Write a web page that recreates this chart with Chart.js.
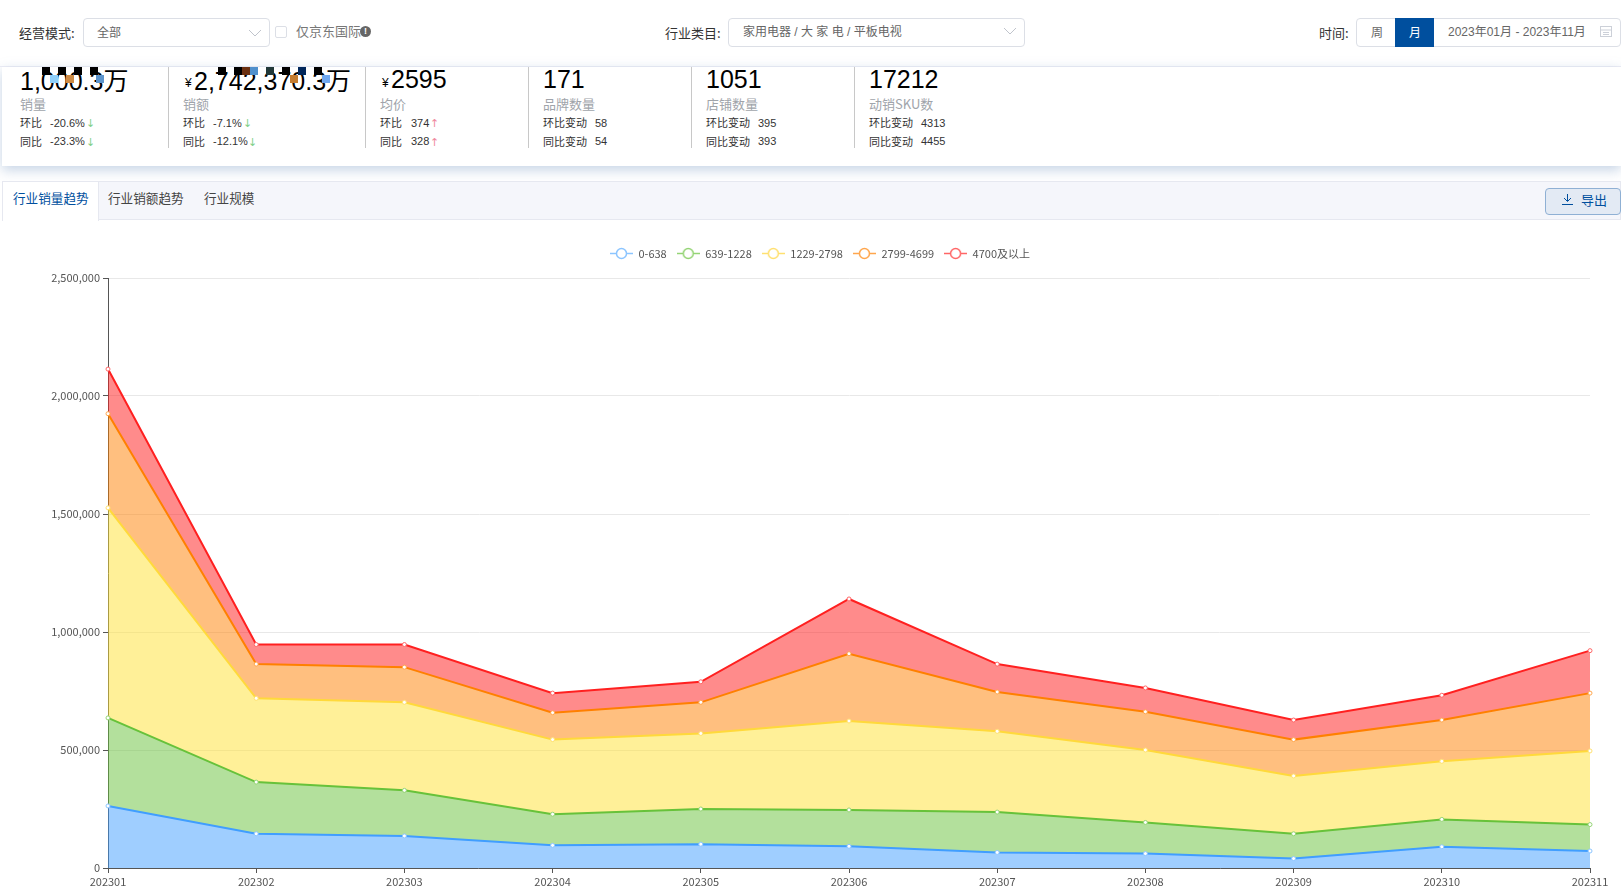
<!DOCTYPE html>
<html>
<head>
<meta charset="utf-8">
<script src="https://cdn.jsdelivr.net/npm/chart.js@4/dist/chart.umd.min.js"></script>
<style>
html, body { margin: 0; padding: 0; width: 1621px; height: 892px; overflow: hidden; background: #fff; }
body { font-family: "Liberation Sans", "Noto Sans CJK SC", sans-serif; color: #333; position: relative; }
.a { position: absolute; white-space: pre; line-height: 1; }
.box { position: absolute; box-sizing: border-box; border: 1px solid #dcdfe6; border-radius: 4px; background: #fff; }
.cn { font-family: "Noto Sans CJK SC", sans-serif; }
.val { font-size: 25px; color: #000; }
.lab { font-size: 13px; color: #a0a4aa; }
.row { font-size: 11px; color: #333; }
.arr { font-family: "DejaVu Sans"; font-size: 11px; }
.sep { position: absolute; width: 1px; top: 67px; height: 81px; background: #c8c8c8; }
.mos { position: absolute; width: 8px; height: 8px; }
</style>
</head>
<body>
<!-- filter bar -->
<div class="a" style="left:0;top:66px;width:1621px;height:1px;background:#eeeef6"></div>
<div class="a cn" style="left:19px;top:26px;font-size:13px">经营模式:</div>
<div class="box" style="left:83px;top:18px;width:187px;height:29px"></div>
<div class="a cn" style="left:97px;top:26px;font-size:12px;color:#666">全部</div>
<svg class="a" style="left:248px;top:29px" width="14" height="9"><path d="M1 1 L7 7 L13 1" fill="none" stroke="#c0c4cc"/></svg>
<div class="box" style="left:275px;top:26px;width:12px;height:12px;border-radius:2px"></div>
<div class="a cn" style="left:296px;top:24px;font-size:13px;color:#777">仅京东国际</div>
<div class="a" style="left:360px;top:26px;width:11px;height:11px;border-radius:6px;background:#666;color:#fff;font-size:9px;text-align:center;line-height:11px;font-weight:bold">!</div>
<div class="a cn" style="left:665px;top:26px;font-size:13px">行业类目:</div>
<div class="box" style="left:728px;top:18px;width:297px;height:29px"></div>
<div class="a" style="left:743px;top:26px;font-size:12px;color:#666">家用电器 / 大 家 电 / 平板电视</div>
<svg class="a" style="left:1003px;top:27px" width="14" height="9"><path d="M1 1 L7 7 L13 1" fill="none" stroke="#c0c4cc"/></svg>
<div class="a cn" style="left:1319px;top:26px;font-size:13px">时间:</div>
<div class="box" style="left:1356px;top:18px;width:265px;height:29px"></div>
<div class="a cn" style="left:1371px;top:26px;font-size:12px;color:#666">周</div>
<div class="a" style="left:1395px;top:18px;width:39px;height:29px;background:#004f9e"></div>
<div class="a cn" style="left:1409px;top:26px;font-size:12px;color:#fff">月</div>
<div class="a" style="left:1448px;top:26px;font-size:12px;color:#666">2023年01月 - 2023年11月</div>
<svg class="a" style="left:1600px;top:25px" width="12" height="12"><rect x="0.5" y="1.5" width="11" height="10" fill="none" stroke="#ccd0d8"/><path d="M0 5 H12 M3 7.5 H9 M3 9.5 H9" stroke="#ccd0d8"/></svg>

<!-- kpi card -->
<div class="a" style="left:2px;top:67px;width:1619px;height:99px;box-shadow:0 4px 12px rgba(110,145,190,.4);background:#fff"></div>
<div class="sep" style="left:168px"></div>
<div class="sep" style="left:365px"></div>
<div class="sep" style="left:528px"></div>
<div class="sep" style="left:691px"></div>
<div class="sep" style="left:854px"></div>

<div class="a val" style="left:20px;top:67px">1,000.3<span class="cn">万</span></div>
<div class="mos" style="left:42px;top:67px;background:#000"></div>
<div class="mos" style="left:58px;top:67px;background:#000"></div>
<div class="mos" style="left:74px;top:67px;background:#000"></div>
<div class="mos" style="left:90px;top:67px;background:#000"></div>
<div class="mos" style="left:50px;top:75px;background:#8fd0fa"></div>
<div class="mos" style="left:66px;top:75px;background:#cc8a44"></div>
<div class="mos" style="left:96px;top:75px;background:#5c94cc"></div>
<div class="a lab cn" style="left:20px;top:97px">销量</div>
<div class="a row cn" style="left:20px;top:117px">环比</div><div class="a row" style="left:50px;top:118px">-20.6%</div><div class="a arr" style="left:86px;top:118px;color:#7fd08a">↓</div>
<div class="a row cn" style="left:20px;top:136px">同比</div><div class="a row" style="left:50px;top:136px">-23.3%</div><div class="a arr" style="left:86px;top:137px;color:#7fd08a">↓</div>

<div class="a" style="left:185px;top:77px;font-size:12px;color:#000">¥</div>
<div class="a val" style="left:194px;top:67px">2,742,370.3<span class="cn">万</span></div>
<div class="mos" style="left:218px;top:67px;background:#000"></div>
<div class="mos" style="left:234px;top:67px;background:#000"></div>
<div class="mos" style="left:242px;top:67px;background:#6b3010"></div>
<div class="mos" style="left:250px;top:67px;background:#5090cc"></div>
<div class="mos" style="left:266px;top:67px;background:#223838"></div>
<div class="mos" style="left:282px;top:67px;background:#000"></div>
<div class="mos" style="left:298px;top:67px;background:#00265a"></div>
<div class="mos" style="left:314px;top:67px;background:#000"></div>
<div class="mos" style="left:290px;top:75px;background:#c47c30"></div>
<div class="mos" style="left:322px;top:75px;background:#70a8f0"></div>
<div class="a lab cn" style="left:183px;top:97px">销额</div>
<div class="a row cn" style="left:183px;top:117px">环比</div><div class="a row" style="left:213px;top:118px">-7.1%</div><div class="a arr" style="left:243px;top:118px;color:#7fd08a">↓</div>
<div class="a row cn" style="left:183px;top:136px">同比</div><div class="a row" style="left:213px;top:136px">-12.1%</div><div class="a arr" style="left:248px;top:137px;color:#7fd08a">↓</div>

<div class="a" style="left:382px;top:77px;font-size:12px;color:#000">¥</div>
<div class="a val" style="left:391px;top:67px">2595</div>
<div class="a lab cn" style="left:380px;top:97px">均价</div>
<div class="a row cn" style="left:380px;top:117px">环比</div><div class="a row" style="left:411px;top:118px">374</div><div class="a arr" style="left:430px;top:118px;color:#f08aa0">↑</div>
<div class="a row cn" style="left:380px;top:136px">同比</div><div class="a row" style="left:411px;top:136px">328</div><div class="a arr" style="left:430px;top:137px;color:#f08aa0">↑</div>

<div class="a val" style="left:543px;top:67px">171</div>
<div class="a lab cn" style="left:543px;top:97px">品牌数量</div>
<div class="a row cn" style="left:543px;top:117px">环比变动</div><div class="a row" style="left:595px;top:118px">58</div>
<div class="a row cn" style="left:543px;top:136px">同比变动</div><div class="a row" style="left:595px;top:136px">54</div>

<div class="a val" style="left:706px;top:67px">1051</div>
<div class="a lab cn" style="left:706px;top:97px">店铺数量</div>
<div class="a row cn" style="left:706px;top:117px">环比变动</div><div class="a row" style="left:758px;top:118px">395</div>
<div class="a row cn" style="left:706px;top:136px">同比变动</div><div class="a row" style="left:758px;top:136px">393</div>

<div class="a val" style="left:869px;top:67px">17212</div>
<div class="a lab cn" style="left:869px;top:97px">动销SKU数</div>
<div class="a row cn" style="left:869px;top:117px">环比变动</div><div class="a row" style="left:921px;top:118px">4313</div>
<div class="a row cn" style="left:869px;top:136px">同比变动</div><div class="a row" style="left:921px;top:136px">4455</div>

<!-- tabs -->
<div class="a" style="left:2px;top:181px;width:1619px;height:39px;box-sizing:border-box;background:#f5f6fb;border:1px solid #e6e8f0"></div>
<div class="a" style="left:2px;top:181px;width:97px;height:40px;box-sizing:border-box;background:#fff;border:1px solid #e6e8f0;border-bottom:none"></div>
<div class="a cn" style="left:13px;top:192px;font-size:12.6px;color:#004f9e">行业销量趋势</div>
<div class="a cn" style="left:108px;top:192px;font-size:12.6px;color:#444">行业销额趋势</div>
<div class="a cn" style="left:204px;top:192px;font-size:12.6px;color:#444">行业规模</div>
<div class="box" style="left:1545px;top:188px;width:76px;height:27px;background:#e3eaf4;border-color:#8fb0d4"></div>
<svg class="a" style="left:1561px;top:193px" width="13" height="13"><path d="M6.5 1 V8 M3 5 L6.5 8.5 L10 5 M1 11.5 H12" fill="none" stroke="#004f9e"/></svg>
<div class="a cn" style="left:1581px;top:193px;font-size:13px;color:#004f9e">导出</div>

<canvas id="trend" width="1621" height="669" style="position:absolute;left:0;top:223px"></canvas>

<script>
const months = ["202301", "202302", "202303", "202304", "202305", "202306", "202307", "202308", "202309", "202310", "202311"];
const seriesNames = ["0-638", "639-1228", "1229-2798", "2799-4699", "4700及以上"];
const band0 = [263000, 145000, 136000, 96000, 101000, 92000, 66000, 61000, 40000, 90000, 72000];
const band1 = [373000, 219000, 193000, 132000, 149000, 154000, 171000, 132000, 105000, 116000, 112000];
const band2 = [890000, 355000, 373000, 316000, 320000, 377000, 342000, 307000, 245000, 246000, 312000];
const band3 = [399000, 145000, 149000, 114000, 132000, 285000, 167000, 162000, 154000, 175000, 245000];
const band4 = [189000, 83000, 96000, 83000, 87000, 232000, 118000, 101000, 83000, 105000, 180000];
const yMax = 2500000;
const yStep = 500000;
const lineColors = ["#409eff", "#67c23a", "#ffd93b", "#ff8000", "#ff2020"];
const fillColors = ["rgba(64,158,255,.5)", "rgba(103,194,58,.5)", "rgba(255,225,50,.5)", "rgba(255,128,0,.5)", "rgba(255,32,32,.52)"];
const legendColors = ["#8cc5ff", "#95d475", "#ffe070", "#ffa64d", "#ff6666"];

// legend glyph: short line with a hollow circle on it
function legendGlyph(color) {
  const c = document.createElement("canvas");
  c.width = 23; c.height = 13;
  const g = c.getContext("2d");
  g.strokeStyle = color;
  g.lineWidth = 1.5;
  g.beginPath(); g.moveTo(0, 6.5); g.lineTo(23, 6.5); g.stroke();
  g.fillStyle = "#fff";
  g.beginPath(); g.arc(11.5, 6.5, 5, 0, Math.PI * 2); g.fill(); g.stroke();
  return c;
}

const bands = [band0, band1, band2, band3, band4];
const datasets = bands.map((vals, i) => ({
  label: seriesNames[i],
  data: vals,
  borderColor: lineColors[i],
  backgroundColor: fillColors[i],
  borderWidth: 2,
  fill: i === 0 ? "origin" : "-1",
  tension: 0,
  clip: false,
  pointRadius: 2,
  pointBorderWidth: 1,
  pointBackgroundColor: "#fff",
  pointBorderColor: legendColors[i],
  pointStyle: "circle",
  legendStyle: legendGlyph(legendColors[i]),
}));

// legend sits centred on the page and lower than Chart.js puts it
const placeLegend = {
  id: "placeLegend",
  beforeInit(chart) {
    const legend = chart.legend;
    const fit = legend.fit;
    legend.fit = function () { fit.call(this); this.height = 55; };
    const draw = legend.draw;
    legend.draw = function () {
      chart.ctx.save();
      chart.ctx.translate(25, 15);
      draw.call(this);
      chart.ctx.restore();
    };
  },
};

new Chart(document.getElementById("trend").getContext("2d"), {
  type: "line",
  data: { labels: months, datasets: datasets },
  plugins: [placeLegend],
  options: {
    responsive: false,
    animation: false,
    layout: { padding: { right: 31, left: 0, top: 0, bottom: 0 } },
    plugins: {
      tooltip: { enabled: false },
      legend: {
        position: "top",
        labels: {
          usePointStyle: true,
          pointStyleWidth: 23,
          padding: 10,
          color: "#555",
          font: { family: "Noto Sans CJK SC", size: 11 },
          generateLabels(chart) {
            return chart.data.datasets.map((d, i) => ({
              text: d.label,
              pointStyle: d.legendStyle,
              fontColor: "#555",
              datasetIndex: i,
              lineWidth: 0,
            }));
          },
        },
      },
    },
    scales: {
      x: {
        offset: false,
        afterFit(s) { s.height = 24; },
        border: { color: "#555", width: 1 },
        grid: { drawOnChartArea: false, drawTicks: true, tickLength: 5, tickColor: "#555" },
        ticks: { color: "#555", padding: 2, maxRotation: 0, autoSkip: false, font: { family: "Noto Sans CJK SC", size: 11 } },
      },
      y: {
        stacked: true,
        min: 0,
        max: yMax,
        afterFit(s) { s.width = 108; },
        border: { color: "#555", width: 1 },
        grid: { color: "#e8e8e8", tickColor: "#555", tickLength: 5 },
        ticks: {
          stepSize: yStep,
          color: "#555",
          padding: 3,
          font: { family: "Noto Sans CJK SC", size: 11 },
          callback: v => v.toLocaleString("en-US"),
        },
      },
    },
  },
});
</script>
</body>
</html>
